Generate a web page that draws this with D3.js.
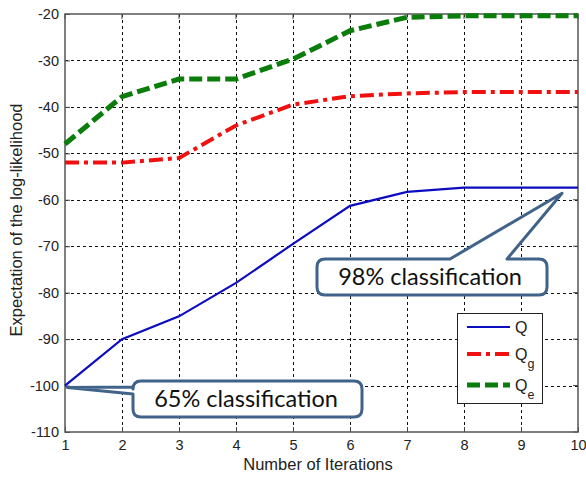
<!DOCTYPE html>
<html><head><meta charset="utf-8">
<script src="https://cdn.jsdelivr.net/npm/d3@7"></script>
<style>body{margin:0;background:#fff}svg{display:block}</style>
</head><body>
<svg id="c" width="586" height="477"></svg>
<script>
const iterations = [1,2,3,4,5,6,7,8,9,10];
const Q  = [-100, -90, -85.1, -77.9, -69.5, -61.3, -58.3, -57.4, -57.4, -57.4];
const Qg = [-52, -52, -51, -44, -39.5, -37.7, -37.1, -36.8, -36.8, -36.8];
const Qe = [-48, -37.8, -34, -34, -29.7, -23.6, -20.7, -20.4, -20.4, -20.4];
const xTicks = [1,2,3,4,5,6,7,8,9,10];
const yTicks = [-110,-100,-90,-80,-70,-60,-50,-40,-30,-20];

const svg = d3.select("#c");
const L=65, R=578, T=14, B=432;
const x = d3.scaleLinear().domain([1,10]).range([L,R]);
const y = d3.scaleLinear().domain([-110,-20]).range([B,T]);
const px = v => Math.round(v)+0.5;
const FONT = "Liberation Sans, Arial, sans-serif";

// grid
const g = svg.append("g").attr("shape-rendering","crispEdges");
g.selectAll("line.gx").data(xTicks.slice(1,-1)).join("line")
  .attr("x1",d=>px(x(d))).attr("x2",d=>px(x(d))).attr("y1",T).attr("y2",B)
  .attr("stroke","#111").attr("stroke-width",1).attr("stroke-dasharray","3,3");
g.selectAll("line.gy").data(yTicks.slice(1,-1)).join("line")
  .attr("y1",d=>px(y(d))).attr("y2",d=>px(y(d))).attr("x1",L).attr("x2",R)
  .attr("stroke","#111").attr("stroke-width",1).attr("stroke-dasharray","3,3");

// axes
const ax = svg.append("g").attr("transform",`translate(0,${B})`)
  .call(d3.axisBottom(x).tickValues(xTicks).tickSize(-5).tickPadding(8).tickFormat(d3.format("d")));
const ay = svg.append("g").attr("transform",`translate(${L},0)`)
  .call(d3.axisLeft(y).tickValues(yTicks).tickSize(-5).tickPadding(6).tickFormat(d=>String(d)));
[ax,ay].forEach(a=>{
  a.select(".domain").remove();
  a.selectAll(".tick line").attr("stroke","#444");
  a.selectAll("text").attr("font-family",FONT).attr("font-size",14.5).attr("fill","#222");
});
svg.selectAll("line.rt").data(yTicks).join("line")
  .attr("x1",R).attr("x2",R-5).attr("y1",d=>y(d)).attr("y2",d=>y(d)).attr("stroke","#444");
svg.selectAll("line.tt").data(xTicks).join("line")
  .attr("y1",T).attr("y2",T+5).attr("x1",d=>x(d)).attr("x2",d=>x(d)).attr("stroke","#444");
svg.append("rect").attr("x",L).attr("y",T).attr("width",R-L).attr("height",B-T)
  .attr("fill","none").attr("stroke","#555").attr("stroke-width",1.5);

// lines
const line = d3.line().x((d,i)=>x(iterations[i])).y(d=>y(d));
svg.append("path").datum(Qe).attr("d",line).attr("fill","none")
  .attr("stroke","#0a7d0a").attr("stroke-width",5).attr("stroke-dasharray","13,5");
svg.append("path").datum(Qg).attr("d",line).attr("fill","none")
  .attr("stroke","#f01010").attr("stroke-width",4).attr("stroke-dasharray","14,5,4,5");
svg.append("path").datum(Q).attr("d",line).attr("fill","none")
  .attr("stroke","#0c0cc0").attr("stroke-width",2.2);

// legend
const lg = svg.append("g");
lg.append("rect").attr("x",457.5).attr("y",313.5).attr("width",85).attr("height",90)
  .attr("fill","#fff").attr("stroke","#222").attr("stroke-width",1);
const legItems = [
  {name:"Q", sub:"", color:"#0c0cc0", w:2, dash:null, yy:327},
  {name:"Q", sub:"g", color:"#f01010", w:4, dash:"14,5,4,5", yy:354},
  {name:"Q", sub:"e", color:"#0a7d0a", w:5, dash:"13,5", yy:385}
];
legItems.forEach(it=>{
  lg.append("line").attr("x1",467).attr("x2",510).attr("y1",it.yy).attr("y2",it.yy)
    .attr("stroke",it.color).attr("stroke-width",it.w).attr("stroke-dasharray",it.dash);
  const t = lg.append("text").attr("x",515).attr("y",it.yy+6)
    .attr("font-family",FONT).attr("font-size",16).attr("fill","#222").text(it.name);
  if(it.sub) t.append("tspan").attr("dy",8).attr("font-size",12.5).text(it.sub);
});

// callouts
const cs = "#41638a";
function callout(pathD, tx, ty, label){
  svg.append("path").attr("d",pathD).attr("fill","#fff").attr("stroke",cs)
    .attr("stroke-width",3).attr("stroke-linejoin","round");
  svg.append("text").attr("x",tx).attr("y",ty).attr("text-anchor","middle")
    .attr("font-family","Lato, 'Open Sans', sans-serif").attr("font-size",23.5).attr("fill","#111").text(label);
}
{
  const x0=317,x1=547,y0=259,y1=295,r=8, tipX=x(9.72), tipY=y(-58.6);
  const d=`M${x0+r},${y0} L450,${y0} L${tipX},${tipY} L507,${y0} L${x1-r},${y0} Q${x1},${y0} ${x1},${y0+r} L${x1},${y1-r} Q${x1},${y1} ${x1-r},${y1} L${x0+r},${y1} Q${x0},${y1} ${x0},${y1-r} L${x0},${y0+r} Q${x0},${y0} ${x0+r},${y0} Z`;
  callout(d, 430, 285, "98% classification");
}
{
  const x0=133,x1=362,y0=381,y1=417,r=8, tipX=x(1.04), tipY=y(-100.4);
  const d=`M${x0+r},${y0} L${x1-r},${y0} Q${x1},${y0} ${x1},${y0+r} L${x1},${y1-r} Q${x1},${y1} ${x1-r},${y1} L${x0+r},${y1} Q${x0},${y1} ${x0},${y1-r} L${x0},394 L${tipX},${tipY} L${x0},387 L${x0},${y0+r} Q${x0},${y0} ${x0+r},${y0} Z`;
  callout(d, 246, 407, "65% classification");
}

// axis titles
svg.append("text").attr("x",318).attr("y",470).attr("text-anchor","middle")
  .attr("font-family",FONT).attr("font-size",16.5).attr("fill","#222")
  .text("Number of Iterations");
svg.append("text").attr("transform","translate(22,220) rotate(-90)").attr("text-anchor","middle")
  .attr("font-family",FONT).attr("font-size",16.5).attr("fill","#222")
  .text("Expectation of the log-likelihood");
</script>
</body></html>
